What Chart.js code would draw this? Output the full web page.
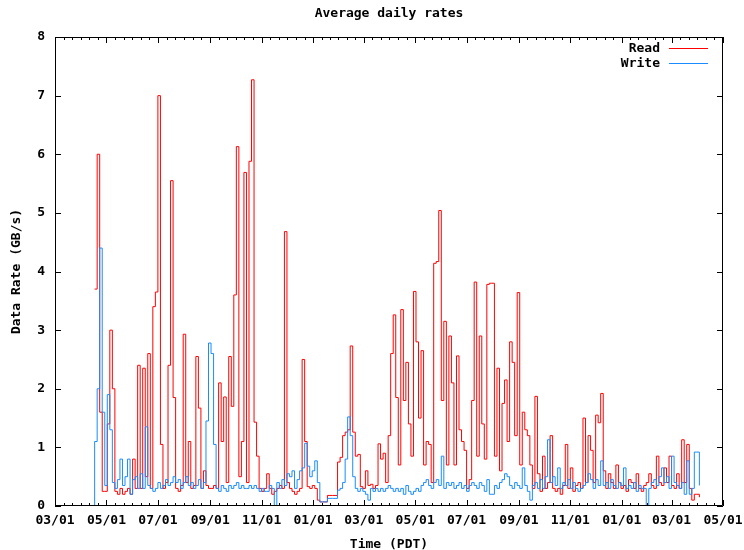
<!DOCTYPE html>
<html>
<head>
<meta charset="utf-8">
<title>Average daily rates</title>
<script src="https://cdn.jsdelivr.net/npm/chart.js@4.4.0/dist/chart.umd.min.js"></script>
<style>
  html, body { margin: 0; padding: 0; background: #fff; }
</style>
</head>
<body>
<canvas id="myChart" width="744" height="550"></canvas>
<script>
// samples every 3 days, the first one is just before the data starts
const firstDate = '2011-04-14';
const stepDays = 3;

// Read rate, GB/s
const readRates = [null,
  3.7, 6.0, 1.6, 0.25, 0.25, 1.4, 3.0, 2.0, 0.25, 0.2,
  0.3, 0.2, 0.25, 0.3, 0.2, 0.8, 0.3, 2.4, 0.3, 2.35,
  0.5, 2.6, 0.3, 3.4, 3.65, 7.0, 1.05, 0.3, 0.4, 2.4,
  5.55, 1.85, 0.3, 0.25, 0.35, 2.93, 0.4, 1.1, 0.3, 0.35,
  2.55, 1.67, 0.3, 0.6, 0.35, 0.3, 0.3, 0.35, 0.3, 2.1,
  1.1, 1.86, 0.4, 2.55, 1.7, 3.6, 6.13, 0.5, 1.1, 5.69,
  0.4, 5.88, 7.27, 1.43, 0.85, 0.3, 0.25, 0.3, 0.55, 0.3, 0.2,
  0.25, 0.3, 0.35, 0.3, 4.68, 0.4, 0.3, 0.25, 0.2, 0.25,
  0.3, 2.5, 1.1, 0.33, 0.3, 0.35, 0.3, 0.1, 0.07, 0.07,
  0.07, 0.18, 0.18, 0.18, 0.18, 0.75, 0.83, 1.2, 1.26, 1.3,
  2.73, 1.26, 0.85, 0.88, 0.33, 0.3, 0.6, 0.35, 0.37, 0.3,
  0.35, 1.06, 0.8, 0.9, 0.4, 1.2, 2.6, 3.26, 1.85, 0.7,
  3.35, 1.8, 2.45, 1.4, 0.85, 3.66, 2.8, 1.5, 2.65, 0.7,
  1.1, 1.05, 0.4, 4.14, 4.17, 5.04, 1.8, 3.15, 0.7, 2.9,
  2.1, 0.7, 2.56, 1.3, 1.1, 0.95, 0.3, 0.45, 1.8, 3.82, 0.85,
  2.9, 1.4, 0.8, 3.78, 3.8, 3.8, 0.85, 2.35, 0.6, 1.75,
  2.15, 1.1, 2.8, 2.45, 1.2, 3.64, 0.7, 1.6, 1.3, 1.2,
  0.7, 0.3, 1.87, 0.55, 0.25, 0.85, 0.3, 0.4, 1.2, 0.3,
  0.25, 0.3, 0.2, 0.35, 1.05, 0.3, 0.65, 0.25, 0.35, 0.4,
  0.3, 1.5, 0.4, 1.2, 0.95, 0.4, 1.55, 1.42, 1.92, 0.6,
  0.3, 0.55, 0.4, 0.3, 0.7, 0.4, 0.3, 0.35, 0.25, 0.45,
  0.4, 0.3, 0.55, 0.3, 0.25, 0.35, 0.4, 0.55, 0.35, 0.3, 0.85,
  0.4, 0.35, 0.65, 0.4, 0.85, 0.35, 0.3, 0.55, 0.3, 1.13,
  0.4, 1.05, 0.3, 0.1, 0.2, 0.2, 0.15
];

// Write rate, GB/s
const writeRates = [0,
  1.1, 2.0, 4.4, 1.6, 0.35, 1.9, 1.3, 0.4, 0.3, 0.45,
  0.8, 0.35, 0.5, 0.8, 0.2, 0.45, 0.5, 0.3, 0.55, 0.3,
  1.35, 0.35, 0.3, 0.25, 0.3, 0.4, 0.3, 0.35, 0.45, 0.35,
  0.4, 0.5, 0.4, 0.45, 0.3, 0.4, 0.5, 0.35, 0.4, 0.3,
  0.35, 0.45, 0.3, 0.4, 1.45, 2.78, 2.6, 1.05, 0.3, 0.25,
  0.35, 0.3, 0.25, 0.35, 0.3, 0.35, 0.4, 0.3, 0.35, 0.3,
  0.3, 0.35, 0.3, 0.35, 0.3, 0.25, 0.3, 0.25, 0.25, 0.35, 0.3,
  0.0, 0.4, 0.3, 0.45, 0.35, 0.55, 0.5, 0.6, 0.3, 0.45,
  0.6, 0.65, 1.07, 0.68, 0.5, 0.6, 0.77, 0.4, 0.07, 0.07,
  0.07, 0.13, 0.13, 0.13, 0.13, 0.27, 0.3, 0.4, 0.8, 1.52,
  1.2, 0.5, 0.3, 0.25, 0.3, 0.25, 0.2, 0.1, 0.3, 0.25,
  0.3, 0.25, 0.3, 0.25, 0.3, 0.35, 0.3, 0.25, 0.3, 0.25,
  0.3, 0.2, 0.35, 0.25, 0.2, 0.25, 0.3, 0.25, 0.35, 0.4,
  0.45, 0.35, 0.3, 0.4, 0.45, 0.35, 0.85, 0.3, 0.4, 0.35,
  0.4, 0.3, 0.35, 0.4, 0.3, 0.35, 0.25, 0.35, 0.4, 0.35, 0.3,
  0.4, 0.35, 0.25, 0.45, 0.2, 0.2, 0.35, 0.3, 0.4, 0.45,
  0.55, 0.5, 0.35, 0.3, 0.4, 0.35, 0.3, 0.65, 0.35, 0.25,
  0.1, 0.35, 0.4, 0.3, 0.45, 0.3, 0.5, 1.13, 0.4, 0.5,
  0.35, 0.65, 0.3, 0.4, 0.35, 0.45, 0.3, 0.4, 0.3, 0.25,
  0.3, 0.35, 0.4, 0.55, 0.45, 0.3, 0.45, 0.35, 0.77, 0.35,
  0.4, 0.3, 0.45, 0.35, 0.3, 0.4, 0.35, 0.65, 0.3, 0.35,
  0.3, 0.4, 0.25, 0.35, 0.3, 0.3, 0.0, 0.3, 0.4, 0.45, 0.35,
  0.5, 0.65, 0.4, 0.5, 0.3, 0.85, 0.4, 0.35, 0.3, 0.4,
  0.2, 0.77, 0.2, 0.3, 0.92, 0.92, 0.35
];

// x axis ticks
const tickLabels = ['03/01', '05/01', '07/01', '09/01', '11/01', '01/01', '03/01',
                    '05/01', '07/01', '09/01', '11/01', '01/01', '03/01', '05/01'];
const tickDates = ['2011-03-01', '2011-05-01', '2011-07-01', '2011-09-01', '2011-11-01',
                   '2012-01-01', '2012-03-01', '2012-05-01', '2012-07-01', '2012-09-01',
                   '2012-11-01', '2013-01-01', '2013-03-01', '2013-05-01'];

const dayOf = (s) => (Date.parse(s) - Date.parse(tickDates[0])) / 86400000;
const tickDays = tickDates.map(dayOf);
const startDay = dayOf(firstDate);
const toPoints = (vals) => vals.map((v, i) => ({ x: startDay + i * stepDays, y: v }));

const monoFont = '"DejaVu Sans Mono", monospace';

// gnuplot-like frame: border, inward ticks on all sides, legend at top right
const frame = {
  id: 'frame',
  afterDatasetsDraw(chart) {
    const { ctx, chartArea: a, scales: { x, y } } = chart;
    ctx.save();
    ctx.strokeStyle = '#000';
    ctx.lineWidth = 1;
    ctx.beginPath();
    ctx.rect(a.left + 0.5, a.top + 0.5, a.right - a.left - 1, a.bottom - a.top - 1);
    y.ticks.forEach(t => {
      const py = Math.round(y.getPixelForValue(t.value)) + 0.5;
      ctx.moveTo(a.left, py); ctx.lineTo(a.left + 6, py);
      ctx.moveTo(a.right, py); ctx.lineTo(a.right - 6, py);
    });
    const mark = (d, len) => {
      const px = Math.round(x.getPixelForValue(d)) + 0.5;
      ctx.moveTo(px, a.bottom); ctx.lineTo(px, a.bottom - len);
      ctx.moveTo(px, a.top); ctx.lineTo(px, a.top + len);
    };
    tickDays.forEach((d, i) => {
      mark(d, 6);
      if (i < tickDays.length - 1) {
        const next = tickDays[i + 1];
        for (let k = 1; k < 6; k++) mark(d + (next - d) * k / 6, 3);
      }
    });
    ctx.stroke();

    ctx.font = 'bold 13px ' + monoFont;
    ctx.textAlign = 'right';
    ctx.textBaseline = 'middle';
    ctx.fillStyle = '#000';
    chart.data.datasets.slice().sort((p, q) => p.legendRank - q.legendRank).forEach((ds, i) => {
      const ly = 49 + i * 15;
      ctx.fillText(ds.label, 660, ly);
      ctx.strokeStyle = ds.borderColor;
      ctx.beginPath();
      ctx.moveTo(669, ly - 0.5);
      ctx.lineTo(708, ly - 0.5);
      ctx.stroke();
    });
    ctx.restore();
  }
};

new Chart(document.getElementById('myChart'), {
  type: 'line',
  data: {
    datasets: [{
      label: 'Read',
      legendRank: 0,
      order: 1,
      data: toPoints(readRates),
      borderColor: '#ff0000',
      borderWidth: 1,
      pointRadius: 0,
      stepped: true,
      spanGaps: false
    }, {
      label: 'Write',
      legendRank: 1,
      order: 0,
      data: toPoints(writeRates),
      borderColor: '#1a8cff',
      borderWidth: 1,
      pointRadius: 0,
      stepped: true,
      spanGaps: false
    }]
  },
  options: {
    responsive: false,
    animation: false,
    events: [],
    layout: { padding: { top: 0, right: 21, bottom: 0, left: 0 } },
    plugins: {
      legend: { display: false },
      tooltip: { enabled: false },
      title: {
        display: true,
        text: 'Average daily rates',
        fullSize: false,
        color: '#000',
        font: { family: monoFont, size: 13, weight: 'bold', lineHeight: 1 },
        padding: { top: 7.5, bottom: 16.5 }
      }
    },
    scales: {
      x: {
        type: 'linear',
        min: tickDays[0],
        max: tickDays[tickDays.length - 1],
        grid: { display: false, drawTicks: false },
        border: { display: false },
        afterBuildTicks: (scale) => { scale.ticks = tickDays.map(v => ({ value: v })); },
        afterFit: (scale) => { scale.height = 44; scale.paddingLeft = 0; scale.paddingRight = 0; },
        ticks: {
          autoSkip: false,
          maxRotation: 0,
          padding: 7,
          color: '#000',
          font: { family: monoFont, size: 13, weight: 'bold' },
          callback: (v, i) => tickLabels[i]
        },
        title: {
          display: true,
          text: 'Time (PDT)',
          color: '#000',
          font: { family: monoFont, size: 13, weight: 'bold', lineHeight: 0.8 },
          padding: 0
        }
      },
      y: {
        min: 0,
        max: 8,
        grid: { display: false, drawTicks: false },
        border: { display: false },
        afterFit: (scale) => { scale.width = 55; scale.paddingTop = 0; scale.paddingBottom = 0; },
        ticks: {
          stepSize: 1,
          padding: 10,
          color: '#000',
          font: { family: monoFont, size: 13, weight: 'bold' }
        },
        title: {
          display: true,
          text: 'Data Rate (GB/s)',
          color: '#000',
          font: { family: monoFont, size: 13, weight: 'bold', lineHeight: 1 },
          padding: { top: 10, bottom: 0 }
        }
      }
    }
  },
  plugins: [frame]
});
</script>
</body>
</html>
